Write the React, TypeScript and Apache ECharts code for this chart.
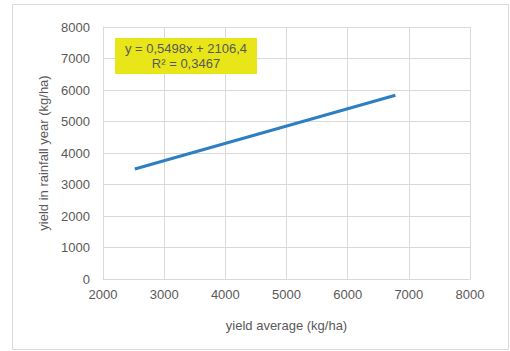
import React, { useEffect, useRef } from "react";
import * as echarts from "echarts";

const xTicks = [2000, 3000, 4000, 5000, 6000, 7000, 8000];
const yTicks = [0, 1000, 2000, 3000, 4000, 5000, 6000, 7000, 8000];
const trendX = [2520, 6780];
const trendY = [3490, 5835];
const equationText = "y = 0,5498x + 2106,4";
const r2Text = "R² = 0,3467";
const xAxisName = "yield average (kg/ha)";
const yAxisName = "yield in rainfall year (kg/ha)";

export default function App() {
  const ref = useRef<HTMLDivElement>(null);
  useEffect(() => {
    if (!ref.current) return;
    const chart = echarts.init(ref.current, undefined, { renderer: "svg" });
    const font = "'Liberation Sans', Arial, sans-serif";
    const gray = "#595959";
    chart.setOption({
      animation: false,
      backgroundColor: "#ffffff",
      grid: { left: 103, right: 40, top: 27, bottom: 72 },
      xAxis: {
        type: "value",
        min: xTicks[0],
        max: xTicks[xTicks.length - 1],
        interval: 1000,
        name: xAxisName,
        nameLocation: "middle",
        nameGap: 40,
        nameTextStyle: { color: gray, fontSize: 13, fontFamily: font },
        axisLine: { show: true, lineStyle: { color: "#d9d9d9" } },
        axisTick: { show: false },
        axisLabel: {
          color: gray,
          fontSize: 13,
          fontFamily: font,
          margin: 9,
          formatter: (v: number) => String(v),
        },
        splitLine: { show: true, lineStyle: { color: "#d9d9d9" } },
      },
      yAxis: {
        type: "value",
        min: yTicks[0],
        max: yTicks[yTicks.length - 1],
        interval: 1000,
        name: yAxisName,
        nameLocation: "middle",
        nameGap: 50,
        nameRotate: 90,
        nameTextStyle: { color: gray, fontSize: 13, fontFamily: font },
        axisLine: { show: true, lineStyle: { color: "#d9d9d9" } },
        axisTick: { show: false },
        axisLabel: {
          color: gray,
          fontSize: 13,
          fontFamily: font,
          margin: 13,
          formatter: (v: number) => String(v),
        },
        splitLine: { show: true, lineStyle: { color: "#d9d9d9" } },
      },
      series: [
        {
          type: "line",
          data: trendX.map((x, i) => [x, trendY[i]]),
          showSymbol: false,
          lineStyle: { color: "#2e7fc1", width: 3 },
          z: 5,
        },
      ],
      graphic: [
        {
          type: "rect",
          shape: { x: 12.5, y: 4.5, width: 496, height: 345 },
          style: { fill: "none", stroke: "#d9d9d9", lineWidth: 1 },
          silent: true,
        },
        {
          type: "rect",
          shape: { x: 115, y: 38, width: 142, height: 36 },
          style: { fill: "#e8e619" },
          z: 10,
        },
        {
          type: "text",
          x: 186,
          y: 56,
          z: 11,
          style: {
            text: equationText + "\n" + r2Text,
            textAlign: "center",
            textVerticalAlign: "middle",
            fill: gray,
            fontSize: 13,
            fontFamily: font,
            lineHeight: 15,
          },
        },
      ],
    });
    return () => chart.dispose();
  }, []);
  return (
    <div
      ref={ref}
      style={{ position: "fixed", left: 0, top: 0, width: 510, height: 351 }}
    />
  );
}
